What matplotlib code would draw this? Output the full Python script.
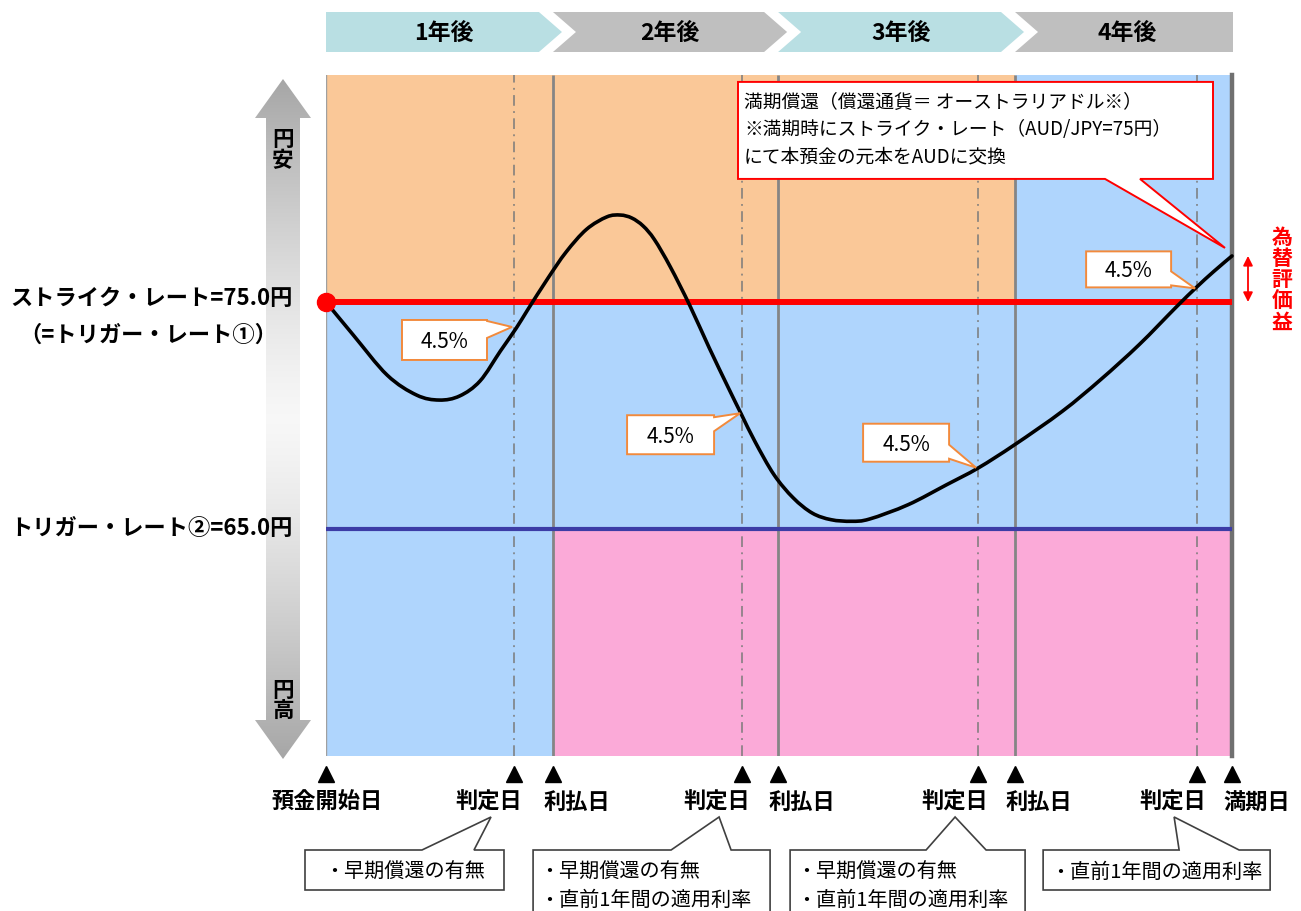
import numpy as np
import matplotlib
matplotlib.use("Agg")
import matplotlib.pyplot as plt
from matplotlib.patches import Polygon, PathPatch
from matplotlib.path import Path

plt.rcParams["font.family"] = ["Noto Sans CJK JP", "DejaVu Sans"]

# --- data (x in years, y in JPY per AUD) ---
year_labels = ["1年後", "2年後", "3年後", "4年後"]
judge_x = [0.83, 1.837, 2.879, 3.846]
pay_x = [1.002, 1.996, 3.042]
maturity_x = 4.0
strike = 75.0
trigger2 = 65.0
y_low, y_high = 55.0, 85.0

curve_x = [0.0, 0.12, 0.27, 0.40, 0.50, 0.59, 0.68, 0.77, 0.84, 0.89, 0.98,
           1.06, 1.15, 1.24, 1.30, 1.35, 1.40, 1.45, 1.52, 1.606, 1.691, 1.775,
           1.834, 1.894, 1.978, 2.063, 2.147, 2.23, 2.32, 2.40, 2.57, 2.74, 2.88,
           3.04, 3.25, 3.42, 3.59, 3.75, 3.84, 3.92, 4.00]
curve_y = [75.0, 73.55, 71.78, 70.90, 70.68, 70.86, 71.52, 72.84, 73.85, 74.65,
           76.05, 77.20, 78.20, 78.75, 78.83, 78.70, 78.35, 77.75, 76.55, 74.85,
           73.00, 71.25, 70.05, 68.85, 67.39, 66.37, 65.70, 65.41, 65.34, 65.44,
           66.07, 66.95, 67.69, 68.71, 70.18, 71.58, 73.12, 74.74, 75.62, 76.35,
           77.03]

coupon_text = "4.5%"
coupon_tip_y = [73.9, 70.1, 67.7, 75.6]

date_x = [0.0, judge_x[0], pay_x[0], judge_x[1], pay_x[1], judge_x[2], pay_x[2], judge_x[3], maturity_x]
date_labels = ["預金開始日", "判定日", "利払日", "判定日", "利払日", "判定日", "利払日", "判定日", "満期日"]

note_lines = [["・早期償還の有無"],
              ["・早期償還の有無", "・直前1年間の適用利率"],
              ["・早期償還の有無", "・直前1年間の適用利率"],
              ["・直前1年間の適用利率"]]

maturity_note = ["満期償還（償還通貨＝ オーストラリアドル※）",
                 "※満期時にストライク・レート（AUD/JPY=75円）",
                 "にて本預金の元本をAUDに交換"]

ORANGE = "#FAC898"
BLUE = "#AFD5FD"
PINK = "#FBAAD8"
TEAL = "#B9DFE3"
GRAY = "#BFBFBF"
CALLOUT = "#F28A3C"

W, H = 1301, 912
fig = plt.figure(figsize=(W / 100, H / 100), dpi=100)
lay = fig.add_axes([0, 0, 1, 1], zorder=0)
ax = fig.add_axes([326 / W, 1 - 757 / H, 906 / W, 681 / H], zorder=1)
top = fig.add_axes([0, 0, 1, 1], zorder=2)

ax.set_xlim(0, maturity_x)
ax.set_ylim(y_low, y_high)
ax.axis("off")


def to_px(x, y):
    d = ax.transData.transform((x, y))
    return top.transData.inverted().transform(d)


def smooth_path(xs, ys):
    # Catmull-Rom through the read points, drawn as cubic Bezier pieces
    p = np.column_stack([xs, ys])
    p = np.vstack([p[0], p, p[-1]])
    verts = [p[1]]
    codes = [Path.MOVETO]
    for i in range(1, len(p) - 2):
        c1 = p[i] + (p[i + 1] - p[i - 1]) / 6
        c2 = p[i + 1] - (p[i + 2] - p[i]) / 6
        verts += [c1, c2, p[i + 1]]
        codes += [Path.CURVE4] * 3
    return Path(verts, codes)


# --- plot area ---
ax.fill_between([0, pay_x[2]], strike, y_high, color=ORANGE, lw=0)
ax.fill_between([pay_x[2], maturity_x], strike, y_high, color=BLUE, lw=0)
ax.fill_between([0, maturity_x], trigger2, strike, color=BLUE, lw=0)
ax.fill_between([0, pay_x[0]], y_low, trigger2, color=BLUE, lw=0)
ax.fill_between([pay_x[0], maturity_x], y_low, trigger2, color=PINK, lw=0)

ax.axvline(0, color="#A0A0A0", lw=1)
ax.vlines(pay_x, y_low, y_high, color="#858585", lw=2)
ax.axvline(maturity_x, color="#707070", lw=3.2, clip_on=False)
ax.vlines(judge_x, y_low, y_high, colors="#7A7A7A", lw=1.1,
          linestyles=[(0, (7, 3.5, 1.2, 3.5))])

ax.axhline(strike, color="#FF0000", lw=4.3, zorder=3)
ax.axhline(trigger2, color="#3C3CA6", lw=3, zorder=3)
ax.add_patch(PathPatch(smooth_path(curve_x, curve_y), fc="none", ec="black",
                       lw=2.6, zorder=4, clip_on=False, capstyle="round"))
ax.plot(0, strike, "o", color="#FF0000", ms=13, zorder=5, clip_on=False)

ax.plot(date_x, [-0.026] * len(date_x), "^", color="black", ms=11.5,
        transform=ax.get_xaxis_transform(), clip_on=False)

# --- layout helpers (pixel axes) ---
for a in (lay, top):
    a.set_xlim(0, W)
    a.set_ylim(H, 0)
    a.axis("off")
top.patch.set_visible(False)

# banner of years
edges = [to_px(x, y_high)[0] for x in [0.0] + pay_x + [maturity_x]]
tips = [e + 9 for e in edges]
for i, lab in enumerate(year_labels):
    if i == 0:
        pts = [(edges[0], 13)]
        left = [(edges[0], 53)]
    else:
        pts = [(tips[i] + 14, 33), (tips[i] - 9, 13)]
        left = [(tips[i] - 9, 53)]
    if i < 3:
        right = [(tips[i + 1] - 23, 13), (tips[i + 1], 33), (tips[i + 1] - 23, 53)]
    else:
        right = [(edges[4] + 1, 13), (edges[4] + 1, 53)]
    poly = pts + right + left
    lay.add_patch(Polygon(poly, closed=True, fc=TEAL if i % 2 == 0 else GRAY, ec="none"))
    cx = (edges[i] + edges[i + 1]) / 2 + 4
    lay.text(cx, 33, lab, ha="center", va="center", fontsize=16.5, fontweight="bold")

# vertical double arrow on the left with a gray gradient
arrow = [(283, 80), (311, 119), (300, 119), (300, 721), (311, 721), (283, 760),
         (255, 721), (266, 721), (266, 119), (255, 119)]
arrow_patch = Polygon(arrow, closed=True, fc="none", ec="none")
lay.add_patch(arrow_patch)
t = np.abs(np.linspace(-1, 1, 300))
g = 0.97 - 0.32 * t ** 1.3
img = np.stack([g, g, g], axis=-1)[:, None, :].repeat(4, axis=1)
im = lay.imshow(img, extent=(250, 316, 762, 78), aspect="auto", interpolation="bilinear")
im.set_clip_path(arrow_patch)
lay.set_xlim(0, W)
lay.set_ylim(H, 0)
lay.text(283, 150, "円\n安", ha="center", va="center", fontsize=15.5,
         fontweight="bold", linespacing=1.05)
lay.text(283, 701, "円\n高", ha="center", va="center", fontsize=15.5,
         fontweight="bold", linespacing=1.05)

# level labels
ys = to_px(0, strike)[1]
yt = to_px(0, trigger2)[1]
top.text(293, ys - 4, "ストライク・レート=75.0円", ha="right", va="center",
         fontsize=16, fontweight="bold")
top.text(148, ys + 32, "（=トリガー・レート①）", ha="center", va="center",
         fontsize=16, fontweight="bold")
top.text(293, yt - 1, "トリガー・レート②=65.0円", ha="right", va="center",
         fontsize=16, fontweight="bold")

# red arrow for FX gain
xe, ye = to_px(maturity_x, curve_y[-1])
top.annotate("", xy=(xe + 16, ys), xytext=(xe + 16, ye),
             arrowprops=dict(arrowstyle="<|-|>", color="#FF0000", lw=1.3,
                             mutation_scale=14, shrinkA=0, shrinkB=0))
top.text(xe + 50, (ys + ye) / 2, "\n".join("為替評価益"), ha="center", va="center",
         color="#FF0000", fontsize=15, fontweight="bold", linespacing=1.0)

# 4.5% callouts: box offsets from the tip (dx0, dx1, dy0, dy1, base0, base1)
boxes = [(-112, -27, -7, 33, -6, 11),
         (-115, -28, 2, 41, 4, 18),
         (-115, -29, -44, -6, -23, -9),
         (-111, -26, -37, -1, -17, -3)]
for jx, jy, b in zip(judge_x, coupon_tip_y, boxes):
    tx, ty = to_px(jx, jy)
    x0, x1 = tx + b[0], tx + b[1]
    y0, y1 = ty + b[2], ty + b[3]
    poly = [(x0, y0), (x1, y0), (x1, ty + b[4]), (tx - 2, ty), (x1, ty + b[5]),
            (x1, y1), (x0, y1)]
    top.add_patch(Polygon(poly, closed=True, fc="white", ec=CALLOUT, lw=1.4))
    top.text((x0 + x1) / 2, (y0 + y1) / 2 + 1, coupon_text, ha="center", va="center",
             fontsize=15)

# maturity note with red border
tx, ty = xe - 7, ye - 8
bx0, bx1, by0, by1 = tx - 487, tx - 12, ty - 166, ty - 69
poly = [(bx0, by0), (bx1, by0), (bx1, by1), (tx - 85, by1), (tx, ty),
        (tx - 120, by1), (bx0, by1)]
top.add_patch(Polygon(poly, closed=True, fc="white", ec="#FF0000", lw=1.4))
for k, line in enumerate(maturity_note):
    top.text(bx0 + 6, by0 + 20 + 27 * k, line, ha="left", va="center", fontsize=13.5)

# date labels under the triangles
offsets = [1, -25, 24, -25, 24, -23, 24, -24, 25]
for x, lab, off in zip(date_x, date_labels, offsets):
    px = to_px(x, y_low)[0]
    top.text(px + off, 802, lab, ha="center", va="center", fontsize=16,
             fontweight="bold")

# notes below judge dates: (box left, box right, base left, base right) vs tip x
note_geo = [(-186, 13, -69, -17),
            (-186, 51, -48, 12),
            (-165, 70, -29, 31),
            (-131, 96, 5, 65)]
for jx, lines, geo in zip(judge_x, note_lines, note_geo):
    tx = to_px(jx, y_low)[0] - 23
    x0, x1 = tx + geo[0], tx + geo[1]
    y0 = 851
    y1 = 891 if len(lines) == 1 else 930
    poly = [(x0, y0), (tx + geo[2], y0), (tx, 818), (tx + geo[3], y0),
            (x1, y0), (x1, y1), (x0, y1)]
    top.add_patch(Polygon(poly, closed=True, fc="white", ec="#404040", lw=1.2))
    if len(lines) == 1:
        top.text((x0 + x1) / 2, 872, lines[0], ha="center", va="center", fontsize=14.5)
    else:
        for k, line in enumerate(lines):
            top.text(x0 + 6, 872 + 28 * k, line, ha="left", va="center", fontsize=14.5)

fig.savefig("out.png", dpi=100)
